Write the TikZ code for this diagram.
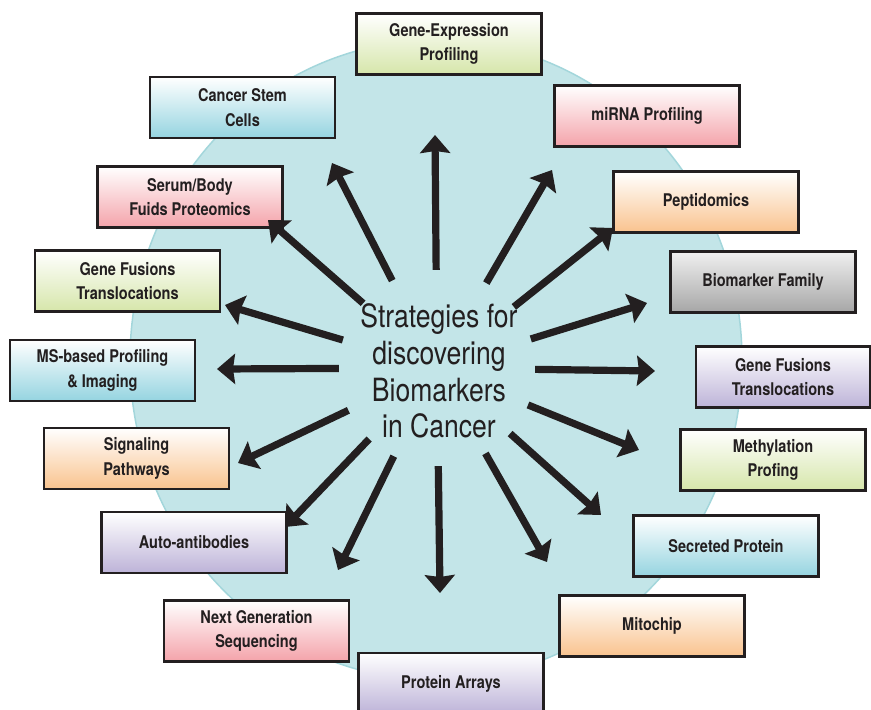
\documentclass[tikz,border=0pt]{standalone}
\usepackage{fontspec}
\usepackage{tikz}
\usepackage{xcolor}
\usetikzlibrary{positioning,arrows.meta}
\newfontfamily\boxfont{TeX Gyre Heros}[FakeStretch=0.83]
\newfontfamily\hubfont{TeX Gyre Heros}[FakeStretch=0.83]
\definecolor{ink}{HTML}{231F20}
\definecolor{disc-fill}{HTML}{C3E5E8}
\definecolor{disc-edge}{HTML}{A3D6DB}
\definecolor{green-b}{HTML}{D6E6AA}
\definecolor{pink-b}{HTML}{F4A3AA}
\definecolor{orange-b}{HTML}{F9C38E}
\definecolor{gray-t}{HTML}{F0F0F0}
\definecolor{gray-b}{HTML}{A6A6A6}
\definecolor{lilac-b}{HTML}{BDB3D8}
\definecolor{cyan-b}{HTML}{95D4E0}

\begin{document}
\begin{tikzpicture}
[x=1pt, y=-1pt,
box-a/.style={rectangle, draw=ink, line width=2.7pt, minimum width=185pt, minimum height=61pt, inner sep=0pt, align=center, text=ink, font={\boxfont\bfseries\fontsize{17.5}{24.5}\selectfont}, top color=white},
box-green/.style={box-a, bottom color=green-b},
box-pink/.style={box-a, bottom color=pink-b},
box-orange/.style={box-a, bottom color=orange-b},
box-gray/.style={box-a, top color=gray-t, bottom color=gray-b},
box-lilac/.style={box-a, bottom color=lilac-b},
box-cyan/.style={box-a, bottom color=cyan-b},
hub-a/.style={circle, minimum size=196pt, inner sep=0pt},
text-a/.style={align=center, inner sep=0pt, text=ink, font={\hubfont\fontsize{32}{36.7}\selectfont}},
arrow-a/.style={draw=ink, line width=7.2pt, -{Stealth[length=18pt, width=30pt, inset=2pt]}},]
\useasboundingbox (0,0) rectangle (871,710);
\filldraw [fill=disc-fill, draw=disc-edge, line width=1.5pt] (436,360) ellipse [x radius=306, y radius=320];
\node (hub)   [hub-a]  at (437,368) {};
\node (title) [text-a] at (439,371) {Strategies for\\discovering\\Biomarkers\\in Cancer};
% boxes, clockwise from the top
\node (expr)    [box-green]  at (449,44)    {Gene-Expression\\Profiling};
\node (mirna)   [box-pink]   at (647,116)   {miRNA Profiling};
\node (pept)    [box-orange] at (706,202)   {Peptidomics};
\node (family)  [box-gray]   at (763,282)   {Biomarker Family};
\node (fus-r)   [box-lilac, minimum width=174pt] at (783,377) {Gene Fusions\\Translocations};
\node (methyl)  [box-green]  at (773,460)   {Methylation\\Profing};
\node (secret)  [box-cyan]   at (726,546)   {Secreted Protein};
\node (mito)    [box-orange] at (652,626)   {Mitochip};
\node (protein) [box-lilac]  at (451,683.5) {Protein Arrays};
\node (ngs)     [box-pink]   at (256.5,631) {Next Generation\\Sequencing};
\node (auto)    [box-lilac]  at (194,542.5) {Auto-antibodies};
\node (signal)  [box-orange] at (136.5,458.5) {Signaling\\Pathways};
\node (ms)      [box-cyan]   at (102.5,370.5) {MS-based Profiling\\\& Imaging};
\node (fus-l)   [box-green]  at (127.5,281) {Gene Fusions\\Translocations};
\node (serum)   [box-pink]   at (190,197)   {Serum/Body\\Fuids Proteomics};
\node (stem)    [box-cyan]   at (242.5,107.5) {Cancer Stem\\Cells};
% arrow tips
\coordinate (tip-expr)    at (435,135);
\coordinate (tip-mirna)   at (552,170);
\coordinate (tip-pept)    at (613,228);
\coordinate (tip-family)  at (647,303);
\coordinate (tip-fus-r)   at (655,371);
\coordinate (tip-methyl)  at (639,450);
\coordinate (tip-secret)  at (601,515);
\coordinate (tip-mito)    at (547,562);
\coordinate (tip-protein) at (440,593);
\coordinate (tip-ngs)     at (338,570);
\coordinate (tip-auto)    at (285,527);
\coordinate (tip-signal)  at (238,463);
\coordinate (tip-ms)      at (217,369);
\coordinate (tip-fus-l)   at (225,305);
\coordinate (tip-serum)   at (268,220);
\coordinate (tip-stem)    at (332,163);
\draw [arrow-a] (hub) -- (tip-expr);
\draw [arrow-a] (hub) -- (tip-mirna);
\draw [arrow-a] (hub) -- (tip-pept);
\draw [arrow-a] (hub) -- (tip-family);
\draw [arrow-a] (hub) -- (tip-fus-r);
\draw [arrow-a] (hub) -- (tip-methyl);
\draw [arrow-a] (hub) -- (tip-secret);
\draw [arrow-a] (hub) -- (tip-mito);
\draw [arrow-a] (hub) -- (tip-protein);
\draw [arrow-a] (hub) -- (tip-ngs);
\draw [arrow-a] (hub) -- (tip-auto);
\draw [arrow-a] (hub) -- (tip-signal);
\draw [arrow-a] (hub) -- (tip-ms);
\draw [arrow-a] (hub) -- (tip-fus-l);
\draw [arrow-a] (hub) -- (tip-serum);
\draw [arrow-a] (hub) -- (tip-stem);
\end{tikzpicture}
\end{document}
